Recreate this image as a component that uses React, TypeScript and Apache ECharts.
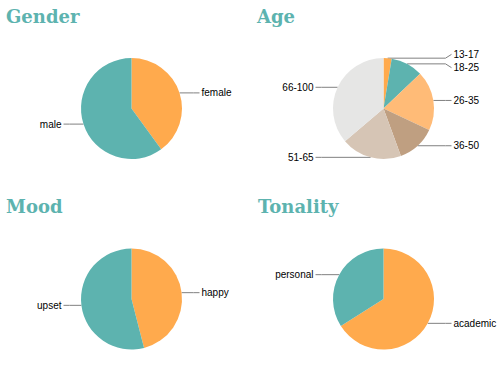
import React, { useEffect, useRef } from "react";
import * as echarts from "echarts";

const genderCategories = ["female", "male"];
const genderValues = [40, 60];

const ageCategories = ["13-17", "18-25", "26-35", "36-50", "51-65", "66-100"];
const ageValues = [2.6, 10.3, 19.1, 12.4, 19.4, 36.2];

const moodCategories = ["happy", "upset"];
const moodValues = [46, 54];

const tonalityCategories = ["academic", "personal"];
const tonalityValues = [66, 34];

const titles = ["Gender", "Age", "Mood", "Tonality"];

const ORANGE = "#ffaa4d";
const TEAL = "#5db3af";
const twoColors = [ORANGE, TEAL];
const ageColors = [ORANGE, TEAL, "#ffbb77", "#bf9f81", "#d6c5b5", "#e6e6e5"];

const RADIUS = 50.5;
const LABEL_REACH = 68;
const LABEL_GAP = 13.3;

// symmetric de-overlap of label rows on each side of a pie
function labelRows(vals: number[], center: [number, number]): number[] {
  const total = vals.reduce((a, b) => a + b, 0);
  let acc = 0;
  const items = vals.map((v, i) => {
    const mid = ((acc + v / 2) / total) * Math.PI * 2;
    acc += v;
    return { i, right: Math.sin(mid) >= 0, y: center[1] - RADIUS * Math.cos(mid) };
  });
  const out: number[] = new Array(vals.length).fill(0);
  [true, false].forEach((side) => {
    const group = items.filter((it) => it.right === side).sort((a, b) => a.y - b.y);
    const ys = group.map((g) => g.y);
    for (let k = 0; k < 200; k++) {
      for (let j = 1; j < ys.length; j++) {
        const d = ys[j] - ys[j - 1];
        if (d < LABEL_GAP) {
          const m = (LABEL_GAP - d) / 2;
          ys[j - 1] -= m;
          ys[j] += m;
        }
      }
    }
    group.forEach((g, j) => (out[g.i] = ys[j]));
  });
  return out;
}

function makeSeries(
  name: string,
  cats: string[],
  vals: number[],
  colors: string[],
  center: [number, number]
) {
  const rows = labelRows(vals, center);
  return {
    type: "pie",
    name,
    center,
    radius: RADIUS,
    startAngle: 90,
    clockwise: true,
    silent: true,
    avoidLabelOverlap: false,
    emphasis: { disabled: true },
    itemStyle: { borderWidth: 0 },
    label: {
      show: true,
      color: "#000",
      fontFamily: "Liberation Sans, Arial, sans-serif",
      fontSize: 10,
      lineHeight: 13,
      overflow: "none",
      distanceToLabelLine: 2,
    },
    labelLine: {
      show: true,
      length: 0,
      length2: 18,
      lineStyle: { color: "#808080", width: 1 },
    },
    labelLayout: (params: any) => {
      const pts = params.labelLinePoints;
      if (!pts || !pts.length) return {};
      const x1 = pts[0][0];
      const y1 = pts[0][1];
      const right = x1 >= center[0];
      const y = rows[params.dataIndex] ?? y1;
      const endX = center[0] + (right ? LABEL_REACH : -LABEL_REACH);
      const bendX = endX + (right ? -6 : 6);
      return {
        x: endX + (right ? 2 : -2),
        y,
        align: right ? "left" : "right",
        verticalAlign: "middle",
        labelLinePoints: [
          [x1, y1],
          [bendX, y1],
          [endX, y],
        ],
      };
    },
    data: cats.map((c, i) => ({
      name: c,
      value: vals[i],
      itemStyle: { color: colors[i % colors.length] },
    })),
  };
}

export default function App() {
  const ref = useRef<HTMLDivElement>(null);
  useEffect(() => {
    document.body.style.margin = "0";
    if (!ref.current) return;
    const chart = echarts.init(ref.current, null, { renderer: "svg" });
    const titleStyle = {
      fontFamily: "DejaVu Serif, Georgia, serif",
      fontWeight: "bold" as const,
      fontSize: 18,
      color: "#5db3af",
    };
    const titlePos = [
      { left: 6, top: 7 },
      { left: 257, top: 7 },
      { left: 6, top: 197 },
      { left: 258, top: 197 },
    ];
    chart.setOption({
      animation: false,
      backgroundColor: "#ffffff",
      title: titles.map((t, i) => ({
        text: t,
        left: titlePos[i].left,
        top: titlePos[i].top,
        padding: 0,
        textStyle: titleStyle,
      })),
      series: [
        makeSeries("Gender", genderCategories, genderValues, twoColors, [131.5, 108.5]),
        makeSeries("Age", ageCategories, ageValues, ageColors, [383.5, 108.5]),
        makeSeries("Mood", moodCategories, moodValues, twoColors, [131.5, 299]),
        makeSeries("Tonality", tonalityCategories, tonalityValues, twoColors, [383.5, 299]),
      ],
    });
    return () => chart.dispose();
  }, []);
  return (
    <div
      ref={ref}
      style={{ position: "absolute", left: 0, top: 0, width: 500, height: 370 }}
    />
  );
}
